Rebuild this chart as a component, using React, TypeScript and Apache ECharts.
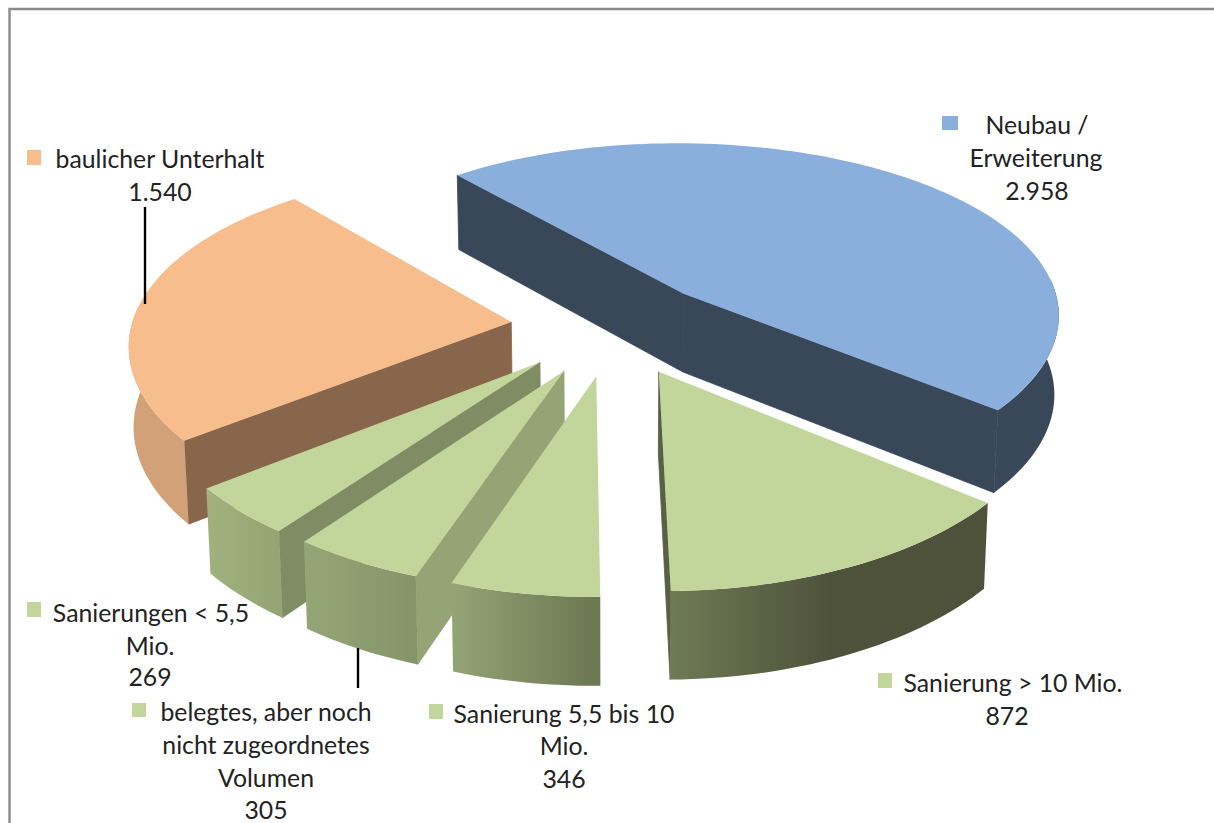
import React, { useEffect, useRef } from "react";
import * as echarts from "echarts";

const categories = [
  "Neubau / Erweiterung",
  "Sanierung > 10 Mio.",
  "Sanierung 5,5 bis 10 Mio.",
  "belegtes, aber noch nicht zugeordnetes Volumen",
  "Sanierungen < 5,5 Mio.",
  "baulicher Unterhalt",
];
const values = [2958, 872, 346, 305, 269, 1540];
const valueLabels = ["2.958", "872", "346", "305", "269", "1.540"];

const drawOrder = [0, 5, 4, 3, 2, 1];
const topColors = ["#8bafdd", "#c2d59b", "#c2d59b", "#c2d59b", "#c2d59b", "#f7bd8c"];
const startFaceColors = ["#384859", "#4f523b", "#6f7a55", "#94a475", "#7f8c64", "#88664c"];
const endFaceColors = ["#384859", "#5a6043", "#6f7a55", "#94a475", "#7f8c64", "#88664c"];
const wallLeftColors = ["#384859", "#6f7a55", "#94a475", "#95a676", "#a2b27f", "#d2a178"];
const wallRightColors = ["#384859", "#4f523b", "#6c7651", "#859468", "#93a372", "#d2a178"];

const START_ANGLE = -40;
const CX = 613;
const CY = 327;
const RX = 380;
const RY = 178;
const PERSPECTIVE_X = 0.11;
const PERSPECTIVE_Y = 0.13;
const BOTTOM_SHRINK = 0.99;
const DEPTH_PERSPECTIVE = 0.6;
const EXPLODE = 0.27;
const DEPTH = 79.5;
const WALL_FROM = 85;
const WALL_TO = 275;

const FONT = '24.8px Lato, "Noto Sans", sans-serif';
const TEXT_COLOR = "#222222";

// text lines: [text, centre x, centre y]
const labelLines: [string, number, number][] = [
  ["Neubau /", 1037, 124],
  ["Erweiterung", 1036, 157],
  [valueLabels[0], 1037, 190],
  ["baulicher Unterhalt", 160, 158],
  [valueLabels[5], 160, 191],
  ["Sanierung > 10 Mio.", 1013, 682],
  [valueLabels[1], 1007, 715],
  ["Sanierung 5,5 bis 10", 564, 713],
  ["Mio.", 564, 745],
  [valueLabels[2], 564, 778],
  ["belegtes, aber noch", 266, 711],
  ["nicht zugeordnetes", 266, 744],
  ["Volumen", 266, 777],
  [valueLabels[3], 266, 809],
  ["Sanierungen < 5,5", 151, 612],
  ["Mio.", 150, 645],
  [valueLabels[4], 150, 676],
];
// legend keys: [x, y, w, h, colour]
const legendKeys: [number, number, number, number, string][] = [
  [942, 116, 16, 14, "#8bafdd"],
  [27, 150, 14, 15, "#f7bd8c"],
  [878, 673, 14, 15, "#c2d59b"],
  [429, 704, 14, 15, "#c2d59b"],
  [132, 703, 14, 14, "#c2d59b"],
  [27, 602, 14, 15, "#c2d59b"],
];
const leaderLines: [number, number, number, number][] = [
  [145, 207, 145, 304],
  [358, 648, 358, 688],
];

const total = values.reduce((a, b) => a + b, 0);
const rad = (d: number) => (d * Math.PI) / 180;
const dir = (t: number): [number, number] => [Math.sin(rad(t)), -Math.cos(rad(t))];

function project(X: number, Y: number, z: number): [number, number] {
  const sx = 1 / (1 - PERSPECTIVE_X * Y);
  const sy = 1 / (1 - PERSPECTIVE_Y * Y);
  const sz = 1 + (sy - 1) * DEPTH_PERSPECTIVE;
  const shrink = 1 + (BOTTOM_SHRINK - 1) * z;
  return [CX + RX * X * sx * shrink, CY + RY * Y * sy + DEPTH * z * sz];
}

function area(pts: number[][]) {
  let a = 0;
  for (let i = 0; i < pts.length; i++) {
    const p = pts[i];
    const q = pts[(i + 1) % pts.length];
    a += p[0] * q[1] - q[0] * p[1];
  }
  return a;
}

function sliceAngles(index: number): [number, number] {
  let before = 0;
  for (let i = 0; i < index; i++) before += values[i];
  return [START_ANGLE + (before / total) * 360, START_ANGLE + ((before + values[index]) / total) * 360];
}

function renderSlice(_params: any, api: any) {
  const i = api.value(0) as number;
  const [a0, a1] = sliceAngles(i);
  const mid = dir((a0 + a1) / 2);
  const ox = mid[0] * EXPLODE;
  const oy = mid[1] * EXPLODE;
  const pt = (t: number, z: number) => {
    const d = dir(t);
    return project(ox + d[0], oy + d[1], z);
  };
  const apexTop = project(ox, oy, 0);
  const apexBottom = project(ox, oy, 1);
  const arc = (from: number, to: number, z: number) => {
    const out: [number, number][] = [];
    const n = Math.max(2, Math.ceil((to - from) / 1.5));
    for (let k = 0; k <= n; k++) out.push(pt(from + ((to - from) * k) / n, z));
    return out;
  };
  const children: any[] = [];
  const poly = (points: number[][], fill: any, seam?: boolean) =>
    children.push({
      type: "polygon",
      shape: { points },
      style: seam ? { fill, stroke: fill, lineWidth: 0.8 } : { fill, stroke: "none" },
    });

  const startFace = [apexTop, pt(a0, 0), pt(a0, 1), apexBottom];
  const endFace = [apexTop, pt(a1, 0), pt(a1, 1), apexBottom];
  if (area(startFace) < 0) poly(startFace, startFaceColors[i], true);
  if (area(endFace) > 0) poly(endFace, endFaceColors[i], true);

  const w0 = Math.max(a0, WALL_FROM);
  const w1 = Math.min(a1, WALL_TO);
  if (w1 > w0) {
    const top = arc(w0, w1, 0);
    const bottom = arc(w0, w1, 1).reverse();
    const pts = [...top, ...bottom];
    const xs = pts.map((p) => p[0]);
    const minX = Math.min(...xs);
    const maxX = Math.max(...xs);
    poly(pts, {
      type: "linear",
      global: true,
      x: minX,
      y: 0,
      x2: maxX,
      y2: 0,
      colorStops: [
        { offset: 0, color: wallLeftColors[i] },
        { offset: i === 1 ? 0.5 : 1, color: wallRightColors[i] },
        { offset: 1, color: wallRightColors[i] },
      ],
    });
  }
  poly([apexTop, ...arc(a0, a1, 0)], topColors[i]);
  return { type: "group", children };
}

export default function App() {
  const ref = useRef<HTMLDivElement>(null);
  useEffect(() => {
    const chart = echarts.init(ref.current!, undefined, { renderer: "svg" });
    chart.setOption({
      animation: false,
      backgroundColor: "#ffffff",
      series: [
        {
          type: "custom",
          coordinateSystem: "none",
          renderItem: renderSlice,
          data: drawOrder.map((i) => ({ name: categories[i], value: [i, values[i]] })),
          silent: true,
        },
      ],
      graphic: [
        ...leaderLines.map(([x1, y1, x2, y2]) => ({
          type: "line",
          z: 5,
          shape: { x1, y1, x2, y2 },
          style: { stroke: "#000000", lineWidth: 2.4 },
        })),
        {
          type: "polyline",
          z: 5,
          shape: { points: [[1214, 9], [9.5, 9], [9.5, 823]] },
          style: { stroke: "#8a8a8a", lineWidth: 2.4, fill: "none" },
        },
        ...legendKeys.map(([x, y, width, height, fill]) => ({
          type: "rect",
          z: 6,
          shape: { x, y, width, height },
          style: { fill },
        })),
        ...labelLines.map(([text, x, y]) => ({
          type: "text",
          z: 6,
          style: { text, x, y, font: FONT, fill: TEXT_COLOR, textAlign: "center", textVerticalAlign: "middle" },
        })),
      ],
    });
    return () => chart.dispose();
  }, []);
  return <div ref={ref} style={{ position: "fixed", left: 0, top: 0, width: 1214, height: 823 }} />;
}
